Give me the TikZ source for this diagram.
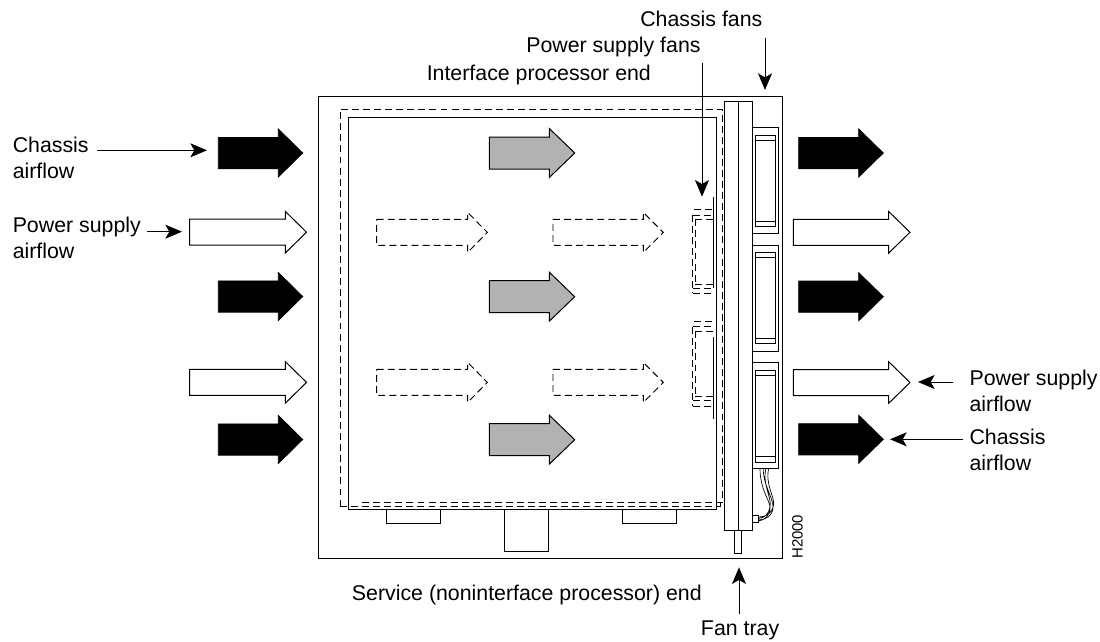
\documentclass[tikz,border=0pt]{standalone}
\usepackage{fontspec}
\setmainfont{Liberation Sans}
\usetikzlibrary{arrows.meta}
\newcommand\airarrow[8]{% name, style, x0, xbase, xtip, yc, shaft half, head half
  \draw[#2] (#3,#6-#7) -- (#4,#6-#7) -- (#4,#6-#8) -- (#5,#6) -- (#4,#6+#8) -- (#4,#6+#7) -- (#3,#6+#7) -- cycle;
  \coordinate (#1) at (#5,#6);}
\newcommand\fanbox[6]{% box top, box bottom, inner top, line, line, inner bottom
  \draw[part] (752.7,#1) rectangle (778.7,#2);
  \draw[part] (755.7,#3) rectangle (775.7,#6);
  \draw[part] (755.7,#4) -- (775.7,#4) (755.7,#5) -- (775.7,#5);}
\newcommand\psfan[8]{% y1 y2 y3 y4 y5 y6 solid top, solid bottom
  \draw[dashline] (694,#1) -- (714,#1) (692.7,#2) -- (714,#2) (695.3,#3) -- (714,#3)
    (692.7,#2) -- (692.7,#6) (695.3,#3) -- (695.3,#4)
    (695.3,#4) -- (714,#4) (692.7,#5) -- (714,#5) (692.7,#6) -- (714,#6);
  \draw[part] (713.3,#7) -- (713.3,#8);}
\tikzset{
  x=0.75pt,y=-0.75pt,
  part/.style={draw=black,line width=0.75pt},
  frame/.style={draw=black,line width=0.75pt},
  dashline/.style={draw=black,line width=0.7pt,dash pattern=on 5.2pt off 3.1pt},
  darkflow/.style={draw=black,fill=black,line width=0.6pt},
  greyflow/.style={draw=black,fill=black!30,line width=0.75pt},
  whiteflow/.style={draw=black,fill=white,line width=0.75pt},
  dashflow/.style={dashline,fill=none},
  callout/.style={draw=black,line width=0.75pt,-{Stealth[length=12.5pt,width=10.5pt,inset=3pt]}},
  label/.style={font=\fontsize{16}{19.5}\selectfont,inner sep=0pt,anchor=base west},
  twoline/.style={label,align=left,anchor=north west},
}
\begin{document}
\begin{tikzpicture}
\useasboundingbox (0,0) rectangle (1100,642);
% chassis
\draw[frame] (318.5,96.5) rectangle (782.5,558);
\draw[part] (348,509.3) -- (348,118) -- (716.3,118) -- (716.3,509.3) -- cycle;
\draw[dashline] (340,506.5) -- (340,109) -- (722.5,109) -- (722.5,502.8) -- (362,502.8);
\draw[dashline] (340,506.5) -- (720,506.5) -- (720,502.8);
% connectors on service end
\draw[part] (386,509.3) rectangle (440.3,523.3);
\draw[part] (504.3,509.3) rectangle (548.3,551);
\draw[part] (622.3,509.3) rectangle (676,523.3);
% fan tray
\draw[part] (724.3,102) rectangle (752.7,530);
\draw[part] (738.7,102) -- (738.7,530);
\draw[part] (734,530) rectangle (741.7,553);
\fanbox{127.7}{233.3}{135}{140}{221.7}{226.7}
\fanbox{245.3}{351}{252}{257.3}{338.3}{343.3}
\fanbox{362.7}{468.3}{370}{375}{456.7}{462.3}
\draw[part] (752.7,515.7) rectangle (758.7,522.3);
\draw[line width=0.5pt] (760,468.3) .. controls (760,490) and (770,500) .. (770,508) .. controls (770,516) and (764,520) .. (758.7,521)
  (763.3,468.3) .. controls (763,485) and (773,497) .. (773,507) .. controls (773,516) and (765,520) .. (758.7,520)
  (766,468.3) .. controls (762,485) and (772,497) .. (770,507) .. controls (769,514) and (764,518) .. (758.7,518.5)
  (768.7,468.3) .. controls (765,485) and (775,497) .. (773.5,505) .. controls (772,514) and (765,517) .. (758.7,517);
% power supply fans
\psfan{209.5}{215}{219.3}{284}{288.3}{293.3}{196.7}{288}
\psfan{321.7}{326.7}{331.3}{396.7}{400.7}{406}{336.7}{418.7}
% airflow arrows
\airarrow{bl}{darkflow}{218.3}{278.3}{302.7}{153}{15.6}{24}
\airarrow{wl}{whiteflow}{189.7}{285.3}{306.5}{232.2}{13}{20.8}
\airarrow{bm}{darkflow}{218.3}{278.3}{302.7}{296.5}{15.6}{24}
\airarrow{wm}{whiteflow}{189.7}{285.3}{306.5}{382.4}{13}{20.8}
\airarrow{bs}{darkflow}{218.3}{278.3}{302.7}{439.5}{15.6}{24}
\airarrow{ga}{greyflow}{489.3}{549.3}{574.7}{153}{16}{24.5}
\airarrow{gb}{greyflow}{489.3}{549.3}{574.7}{296.7}{16}{24.5}
\airarrow{gc}{greyflow}{489.3}{549.3}{574.7}{439.7}{16}{24.5}
\airarrow{da}{dashflow}{376.7}{467.7}{487.3}{232.4}{13}{20}
\airarrow{db}{dashflow}{553}{643.3}{663.3}{232.4}{13}{20}
\airarrow{dc}{dashflow}{376.7}{467.7}{487.3}{382.4}{13}{20}
\airarrow{dd}{dashflow}{553}{643.3}{663.3}{382.4}{13}{20}
\airarrow{br}{darkflow}{798.7}{858.7}{883.3}{153}{15.6}{24}
\airarrow{wr}{whiteflow}{793.3}{888.7}{910}{232.3}{13}{20.8}
\airarrow{bn}{darkflow}{798.7}{858.7}{883.3}{296.7}{15.6}{24}
\airarrow{wo}{whiteflow}{793.3}{888.7}{910}{382.5}{13}{20.8}
\airarrow{bo}{darkflow}{798.7}{858.7}{883.3}{439.3}{15.6}{24}
% labels
\node[twoline] (chassisL) at (12.5,137) {Chassis\\airflow};
\node[twoline] (powerL) at (12.5,216.5) {Power supply\\airflow};
\node[twoline] (powerR) at (969.3,370) {Power supply\\airflow};
\node[twoline] (chassisR) at (969.3,428.5) {Chassis\\airflow};
\node[label] (chfans) at (640,26.7) {Chassis fans};
\node[label] (psfans) at (526,53) {Power supply fans};
\node[label] (ifend) at (426.5,81) {Interface processor end};
\node[label] (svend) at (351.7,600) {Service (noninterface processor) end};
\node[label] (tray) at (700.7,635) {Fan tray};
\node[font=\fontsize{11.2}{13}\selectfont,inner sep=0pt,anchor=base west,rotate=90] (code) at (802.7,559) {H2000};
% callouts
\coordinate (c1s) at (97,150.3);   \coordinate (c1e) at (207,150.3);
\coordinate (c2s) at (147,231.7);  \coordinate (c2e) at (182,231.7);
\coordinate (c3s) at (953,382);    \coordinate (c3e) at (918,382);
\coordinate (c4s) at (963.3,439.3);\coordinate (c4e) at (890,439.3);
\coordinate (c5s) at (765,38);     \coordinate (c5e) at (765,90);
\coordinate (c6s) at (702,63);     \coordinate (c6e) at (702,196.7);
\coordinate (c7s) at (739,614);    \coordinate (c7e) at (739,567.3);
\foreach \n in {1,...,7} \draw[callout] (c\n s) -- (c\n e);
\end{tikzpicture}
\end{document}
